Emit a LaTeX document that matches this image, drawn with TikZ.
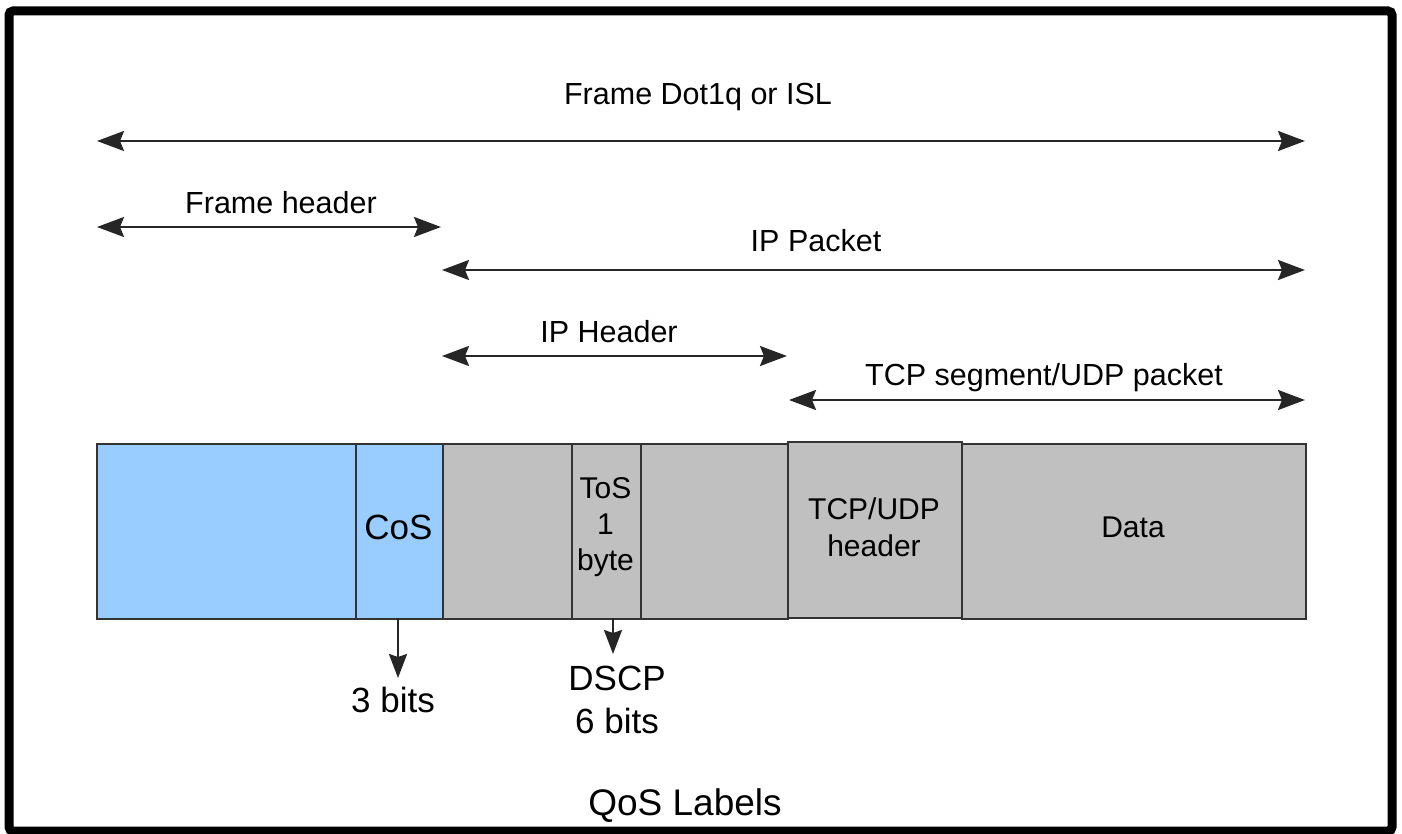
\documentclass[tikz,border=0pt]{standalone}
\usepackage{fontspec}
\setmainfont{Liberation Sans}
\usetikzlibrary{arrows.meta}
\definecolor{hdrblue}{HTML}{99CCFF}
\definecolor{pktgray}{HTML}{C0C0C0}
\definecolor{edgegray}{HTML}{333333}
\tikzset{
  field/.style={draw=edgegray, line width=2pt, inner sep=0pt, anchor=north west},
  bluefield/.style={field, fill=hdrblue},
  grayfield/.style={field, fill=pktgray},
  span/.style={black!85, line width=2.4pt, {Stealth[length=27pt,width=20pt,inset=4pt]}-{Stealth[length=27pt,width=20pt,inset=4pt]}},
  down/.style={black!85, line width=2.2pt, -{Stealth[length=24pt,width=18pt,inset=3pt]}},
  lbl/.style={font=\fontsize{30.5}{36}\selectfont, anchor=base, inner sep=0pt},
  boxtxt/.style={font=\fontsize{30}{36}\selectfont, align=center},
  big/.style={font=\fontsize{35}{42}\selectfont, align=center, inner sep=0pt}
}
\begin{document}
\begin{tikzpicture}[x=1pt,y=-1pt]
\useasboundingbox (0,0) rectangle (1402,834);
\fill[white] (0,0) rectangle (1402,834);
% outer frame
\draw[line width=9pt, rounded corners=4pt] (9,11) rectangle (1392,831);

% fields
\node[bluefield, minimum width=259pt, minimum height=175pt] (hdr) at (96,443) {};
\node[bluefield, minimum width=87pt, minimum height=175pt] (cos) at (355,443) {};
\node[grayfield, minimum width=129pt, minimum height=175pt] (ip1) at (442,443) {};
\node[grayfield, minimum width=69pt, minimum height=175pt] (tos) at (571,443) {};
\node[grayfield, minimum width=147pt, minimum height=175pt] (ip2) at (640,443) {};
\node[grayfield, minimum width=174pt, minimum height=176pt] (tcp) at (787,441) {};
\node[grayfield, minimum width=344pt, minimum height=175pt] (data) at (961,443) {};

% field texts
\node[big] (costxt) at (398.5,527) {CoS};
\node[boxtxt, inner sep=0pt, font=\fontsize{30}{36}\selectfont] (tostxt) at (605.5,527) {ToS\\1\\byte};
\node[boxtxt, inner sep=0pt, font=\fontsize{30}{37}\selectfont] (tcptxt) at (874,527) {TCP/UDP\\header};
\node[boxtxt, inner sep=0pt] (datatxt) at (1133,527) {Data};

% span coordinates
\coordinate (fL) at (97,141);
\coordinate (fR) at (1305,141);
\coordinate (hL) at (97,227);
\coordinate (hR) at (441,227);
\coordinate (pL) at (442,270);
\coordinate (pR) at (1305,270);
\coordinate (iL) at (442,356);
\coordinate (iR) at (787,356);
\coordinate (tL) at (789,400);
\coordinate (tR) at (1305,400);

\draw[span] (fL) -- (fR);
\draw[span] (hL) -- (hR);
\draw[span] (pL) -- (pR);
\draw[span] (iL) -- (iR);
\draw[span] (tL) -- (tR);

% span labels
\node[lbl] (lframe) at (698,105) {Frame Dot1q or ISL};
\node[lbl] (lhdr) at (281,214) {Frame header};
\node[lbl] (lpkt) at (816,252) {IP Packet};
\node[lbl] (liph) at (609,342) {IP Header};
\node[lbl] (ltcp) at (1044,385) {TCP segment/UDP packet};

% down arrows
\coordinate (cosStart) at (398,618);
\coordinate (tosStart) at (613,618);
\coordinate (cosEnd) at (398,678);
\coordinate (tosEnd) at (613,654);
\draw[down] (cosStart) -- (cosEnd);
\draw[down] (tosStart) -- (tosEnd);
\node[big, anchor=base] (bits3) at (393,712) {3 bits};
\node[big, anchor=base] (dscp) at (617,690) {DSCP};
\node[big, anchor=base] (bits6) at (617,733) {6 bits};

\node[font=\fontsize{37}{44}\selectfont, anchor=base, inner sep=0pt] (qos) at (685,815) {QoS Labels};
\end{tikzpicture}
\end{document}
